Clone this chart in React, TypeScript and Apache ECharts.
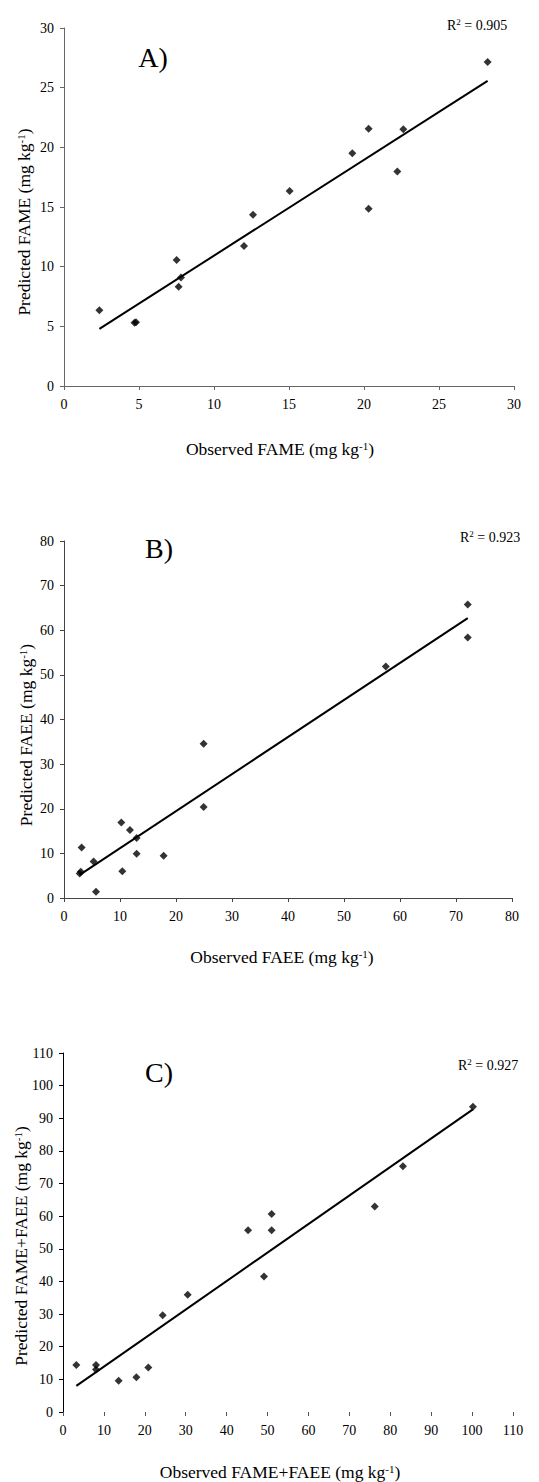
import React, { useEffect, useRef } from "react";
import * as echarts from "echarts";

// Panel A: FAME
const obsFAME = [2.36, 4.7, 4.8, 7.51, 7.64, 7.8, 12.0, 12.6, 15.04, 19.22, 20.31, 20.31, 22.22, 22.62, 28.24];
const predFAME = [6.35, 5.3, 5.35, 10.55, 8.31, 9.1, 11.73, 14.36, 16.34, 19.5, 21.55, 14.86, 17.97, 21.52, 27.15];
// Panel B: FAEE
const obsFAEE = [2.8, 3.0, 3.15, 5.29, 5.71, 10.23, 10.41, 11.78, 12.97, 12.97, 17.79, 24.93, 24.93, 57.47, 72.1, 72.1];
const predFAEE = [5.5, 5.9, 11.34, 8.2, 1.42, 16.94, 5.97, 15.22, 13.43, 9.93, 9.48, 34.55, 20.37, 51.87, 65.75, 58.36];
// Panel C: FAME+FAEE
const obsSum = [3.26, 8.07, 8.07, 13.6, 17.93, 20.86, 24.37, 30.48, 45.23, 49.14, 51.0, 51.0, 76.2, 83.1, 100.2];
const predSum = [14.4, 14.4, 13.0, 9.6, 10.63, 13.6, 29.65, 35.9, 55.7, 41.5, 60.7, 55.7, 63.0, 75.3, 93.5];

const panelLabels = ["A)", "B)", "C)"];
const r2Labels = ["0.905", "0.923", "0.927"];
const xTitles = ["Observed FAME", "Observed FAEE", "Observed FAME+FAEE"];
const yTitles = ["Predicted FAME", "Predicted FAEE", "Predicted FAME+FAEE"];
const axisMax = [30, 80, 110];
const axisInterval = [5, 10, 10];

const FONT = "Liberation Serif";

function regressionLine(xs: number[], ys: number[]) {
  const n = xs.length;
  const mx = xs.reduce((a, b) => a + b, 0) / n;
  const my = ys.reduce((a, b) => a + b, 0) / n;
  let sxy = 0, sxx = 0;
  for (let i = 0; i < n; i++) {
    sxy += (xs[i] - mx) * (ys[i] - my);
    sxx += (xs[i] - mx) * (xs[i] - mx);
  }
  const b = sxy / sxx;
  const a = my - b * mx;
  const x0 = Math.min(...xs);
  const x1 = Math.max(...xs);
  return [[x0, a + b * x0], [x1, a + b * x1]];
}

const grids = [
  { left: 64, top: 28, width: 450, height: 358 },
  { left: 64, top: 541, width: 448, height: 357 },
  { left: 63, top: 1053, width: 450, height: 359 },
];

const rich = {
  n: { fontSize: 17.5, fontFamily: FONT, color: "#000", lineHeight: 22, verticalAlign: "bottom" },
  s: { fontSize: 11, fontFamily: FONT, color: "#000", lineHeight: 22, verticalAlign: "bottom", padding: [0, 0, 7, 0] },
};
const richR = {
  n: { fontSize: 14, fontFamily: FONT, color: "#000", lineHeight: 18, verticalAlign: "bottom" },
  s: { fontSize: 9, fontFamily: FONT, color: "#000", lineHeight: 18, verticalAlign: "bottom", padding: [0, 0, 6, 0] },
};

export default function App() {
  const ref = useRef<HTMLDivElement>(null);
  useEffect(() => {
    if (!ref.current) return;
    const chart = echarts.init(ref.current, null, { renderer: "svg" });
    const data = [
      [obsFAME, predFAME],
      [obsFAEE, predFAEE],
      [obsSum, predSum],
    ];
    const axisColors = ["#666", "#444", "#000"];
    const xAxis = [0, 1, 2].map((i) => ({
      type: "value",
      gridIndex: i,
      min: 0,
      max: axisMax[i],
      interval: axisInterval[i],
      splitLine: { show: false },
      axisLine: { show: i !== 2, lineStyle: { color: axisColors[i], width: 1 } },
      axisTick: { show: true, length: 4, lineStyle: { color: i === 2 ? "#555" : axisColors[i] } },
      axisLabel: { color: "#000", fontSize: 14, fontFamily: FONT, margin: 11 },
    }));
    const yAxis = [0, 1, 2].map((i) => ({
      type: "value",
      gridIndex: i,
      min: 0,
      max: axisMax[i],
      interval: axisInterval[i],
      splitLine: { show: false },
      axisLine: { show: true, lineStyle: { color: axisColors[i], width: 1 } },
      axisTick: { show: true, length: 4, lineStyle: { color: axisColors[i] } },
      axisLabel: { color: "#000", fontSize: 14, fontFamily: FONT, margin: 10 },
    }));
    const series: any[] = [];
    data.forEach(([xs, ys], i) => {
      series.push({
        type: "scatter",
        xAxisIndex: i,
        yAxisIndex: i,
        symbol: "diamond",
        symbolSize: 8,
        itemStyle: { color: "#000" },
        data: xs.map((x, k) => [x, ys[k]]),
        z: 3,
      });
      series.push({
        type: "line",
        xAxisIndex: i,
        yAxisIndex: i,
        symbol: "none",
        lineStyle: { color: "#000", width: 2 },
        data: regressionLine(xs, ys),
        z: 2,
      });
    });
    const panelPos = [
      { lx: 153, ly: 57, rx: 447, ry: 23, tx: 280, ty: 447, yx: 22, yy: 222 },
      { lx: 159, ly: 548, rx: 460, ry: 535, tx: 282, ty: 955, yx: 24, yy: 735 },
      { lx: 159, ly: 1072, rx: 458, ry: 1063, tx: 280, ty: 1470, yx: 19, yy: 1246 },
    ];
    const graphic: any[] = [];
    panelPos.forEach((p, i) => {
      graphic.push({
        type: "text",
        x: p.lx,
        y: p.ly,
        style: { text: panelLabels[i], font: `28px "${FONT}"`, fill: "#000", align: "center", verticalAlign: "middle" },
      });
      graphic.push({
        type: "text",
        x: p.rx,
        y: p.ry,
        style: { text: `{n|R}{s|2}{n| = ${r2Labels[i]}}`, rich: richR, align: "left", verticalAlign: "middle" },
      });
      graphic.push({
        type: "text",
        x: p.tx,
        y: p.ty,
        style: { text: `{n|${xTitles[i]} (mg kg}{s|-1}{n|)}`, rich, align: "center", verticalAlign: "middle" },
      });
      graphic.push({
        type: "text",
        x: p.yx,
        y: p.yy,
        rotation: Math.PI / 2,
        style: { text: `{n|${yTitles[i]} (mg kg}{s|-1}{n|)}`, rich, align: "center", verticalAlign: "middle" },
      });
    });
    chart.setOption({
      animation: false,
      backgroundColor: "#fff",
      grid: grids,
      xAxis,
      yAxis,
      series,
      graphic,
    });
    return () => chart.dispose();
  }, []);
  return (
    <div
      ref={ref}
      style={{ position: "absolute", left: 0, top: 0, width: 539, height: 1482, background: "#fff" }}
    />
  );
}
